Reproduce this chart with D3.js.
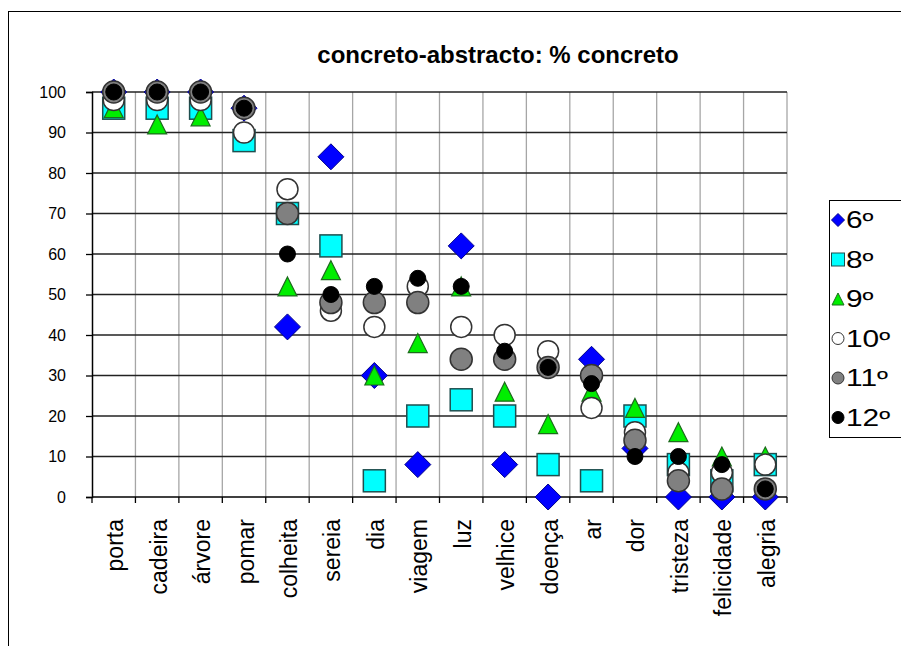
<!DOCTYPE html>
<html><head><meta charset="utf-8">
<script src="https://cdn.jsdelivr.net/npm/d3@7/dist/d3.min.js"></script>
<style>
html,body{margin:0;padding:0;background:#fff;}
svg{display:block;font-family:"Liberation Sans",Arial,sans-serif;}
</style></head>
<body><svg id="c" width="901" height="646"></svg>
<script>
const categories = ["porta","cadeira","árvore","pomar","colheita","sereia","dia","viagem","luz","velhice","doença","ar","dor","tristeza","felicidade","alegria"];
const seriesNames = ["6º","8º","9º","10º","11º","12º"];
const s6  = [100,100,100,96,42,84,30,8,62,8,0,34,12,0,0,0];
const s8  = [96,96,96,88,70,62,4,20,24,20,8,4,20,8,4,8];
const s9  = [96,92,94,null,52,56,30,38,52,26,18,26,22,16,10,10];
const s10 = [98,98,98,90,76,46,42,52,42,40,36,22,16,6,6,8];
const s11 = [100,100,100,96,70,48,48,48,34,34,32,30,14,4,2,2];
const s12 = [100,100,100,96,60,50,52,54,52,36,32,28,10,10,8,2];
const yTicks = [0,10,20,30,40,50,60,70,80,90,100];
const title = "concreto-abstracto: % concreto";

const svg = d3.select("#c");
const FONT = '"Liberation Sans",Arial,sans-serif';

// outer frame
svg.append("rect").attr("x",8.5).attr("y",11.5).attr("width",905).attr("height",650)
  .attr("fill","none").attr("stroke","#000").attr("stroke-width",1);

const x = d3.scaleBand().domain(categories).range([92,787]).padding(0);
const y = d3.scaleLinear().domain([0,100]).range([497,92]);

// vertical gridlines (category boundaries)
const bounds = categories.map(c=>x(c)).concat([x.range()[1]]);
svg.append("g").selectAll("line").data(bounds.slice(1)).join("line")
  .attr("x1",d=>d).attr("x2",d=>d).attr("y1",y(100)).attr("y2",y(0))
  .attr("stroke","#a6a6a6").attr("stroke-width",1.3);

// horizontal gridlines
svg.append("g").selectAll("line").data(yTicks.filter(d=>d>0)).join("line")
  .attr("x1",x.range()[0]).attr("x2",x.range()[1]).attr("y1",d=>y(d)).attr("y2",d=>y(d))
  .attr("stroke","#222").attr("stroke-width",1.3);

// y axis
const yAxis = svg.append("g").attr("transform","translate(92,0)")
  .call(d3.axisLeft(y).tickValues(yTicks).tickSize(6).tickPadding(20).tickFormat(d3.format("d")));
yAxis.select(".domain").attr("stroke","#000").attr("stroke-width",1.5);
yAxis.selectAll(".tick line").attr("stroke","#000").attr("stroke-width",1.3);
yAxis.selectAll(".tick text").attr("font-size",16).attr("font-family",FONT).attr("fill","#000");

// x axis line + boundary ticks
svg.append("line").attr("x1",x.range()[0]).attr("x2",x.range()[1]).attr("y1",y(0)).attr("y2",y(0))
  .attr("stroke","#000").attr("stroke-width",1.5);
svg.append("g").selectAll("line").data(bounds).join("line")
  .attr("x1",d=>d).attr("x2",d=>d).attr("y1",y(0)).attr("y2",y(0)+6)
  .attr("stroke","#000").attr("stroke-width",1.3);

// x labels
svg.append("g").selectAll("text").data(categories).join("text")
  .attr("transform",d=>`translate(${x(d)+x.bandwidth()/2+9.5},519) rotate(-90)`)
  .attr("text-anchor","end").attr("font-size",23).attr("font-family",FONT).attr("fill","#000")
  .text(d=>d);

// title
svg.append("text").attr("x",498).attr("y",63).attr("text-anchor","middle")
  .attr("font-size",24).attr("font-weight","bold").attr("font-family",FONT).text(title);

// marker definitions
const markers = [
  {name:seriesNames[0], data:s6,  type:"diamond",  size:13, fill:"#0000ff", stroke:"#00008b", sw:1},
  {name:seriesNames[1], data:s8,  type:"square",   size:11, fill:"#00ffff", stroke:"#1f4f4f", sw:1.5},
  {name:seriesNames[2], data:s9,  type:"triangle", size:9.5,fill:"#00ee00", stroke:"#1d6b1d", sw:1.2},
  {name:seriesNames[3], data:s10, type:"circle",   size:10.5,fill:"#ffffff", stroke:"#333", sw:1.5},
  {name:seriesNames[4], data:s11, type:"circle",   size:11, fill:"#808080", stroke:"#333", sw:1.5},
  {name:seriesNames[5], data:s12, type:"circle",   size:8,  fill:"#000000", stroke:"#000", sw:1}
];
function drawMarker(g, type, s, fill, stroke, sw){
  if(type==="circle"){
    g.append("circle").attr("r",s).attr("fill",fill).attr("stroke",stroke).attr("stroke-width",sw);
  } else if(type==="square"){
    g.append("rect").attr("x",-s).attr("y",-s).attr("width",2*s).attr("height",2*s)
      .attr("fill",fill).attr("stroke",stroke).attr("stroke-width",sw);
  } else if(type==="diamond"){
    g.append("path").attr("d",`M0,${-s}L${s},0L0,${s}L${-s},0Z`)
      .attr("fill",fill).attr("stroke",stroke).attr("stroke-width",sw);
  } else if(type==="triangle"){
    g.append("path").attr("d",`M0,${-s}L${s},${s}L${-s},${s}Z`)
      .attr("fill",fill).attr("stroke",stroke).attr("stroke-width",sw);
  }
}
markers.forEach(m=>{
  const g = svg.append("g");
  categories.forEach((c,i)=>{
    const v = m.data[i];
    if(v===null||v===undefined) return;
    const mg = g.append("g").attr("transform",`translate(${x(c)+x.bandwidth()/2},${y(v)})`);
    drawMarker(mg,m.type,m.size,m.fill,m.stroke,m.sw);
  });
});

// legend
const lg = svg.append("g");
lg.append("rect").attr("x",829.5).attr("y",200.5).attr("width",80).attr("height",237)
  .attr("fill","#fff").attr("stroke","#000").attr("stroke-width",1);
const legScale = {diamond:6.5, square:6.5, triangle:6, circle:6};
markers.forEach((m,i)=>{
  const yy = 220 + i*39.5;
  const mg = lg.append("g").attr("transform",`translate(838,${yy})`);
  drawMarker(mg,m.type,legScale[m.type],m.fill,m.stroke,1);
  lg.append("text").attr("transform",`translate(846,${yy+8}) scale(1.3,1)`).attr("font-size",23)
    .attr("font-family",FONT).attr("fill","#000").text(m.name);
});
</script></body></html>
